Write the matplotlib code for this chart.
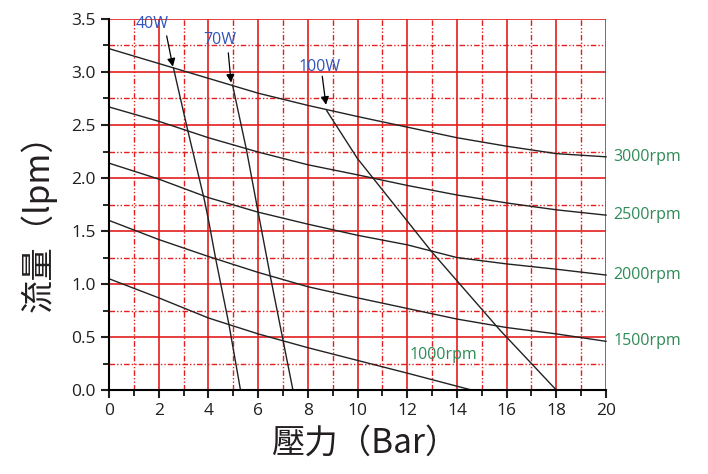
import numpy as np
import matplotlib.pyplot as plt
from matplotlib.ticker import MultipleLocator

# pump curves, flow (lpm) vs pressure (bar)
press = [0, 2, 4, 6, 8, 10, 12, 14, 16, 18, 20]
q3000 = [3.22, 3.08, 2.94, 2.80, 2.685, 2.58, 2.48, 2.38, 2.30, 2.23, 2.20]
q2500 = [2.67, 2.535, 2.38, 2.245, 2.125, 2.03, 1.93, 1.84, 1.765, 1.70, 1.65]
q2000 = [2.14, 1.99, 1.815, 1.678, 1.565, 1.46, 1.37, 1.25, 1.19, 1.14, 1.085]
q1500 = [1.60, 1.42, 1.26, 1.11, 0.975, 0.87, 0.77, 0.67, 0.59, 0.53, 0.46]
press1000 = [0, 2, 4, 6, 8, 10, 12, 14.6]
q1000 = [1.05, 0.87, 0.68, 0.53, 0.40, 0.28, 0.16, 0.0]

# power limit lines
p40 = [2.59, 3.17, 3.83, 4.0, 4.29, 4.83, 5.29]
f40 = [3.04, 2.447, 1.80, 1.607, 1.24, 0.613, 0.0]
p70 = [4.97, 5.53, 6.0, 6.49, 7.0, 7.4]
f70 = [2.877, 2.267, 1.678, 1.074, 0.472, 0.0]
p100 = [8.76, 9.99, 13.0, 15.73, 17.0, 18.0]
f100 = [2.635, 2.186, 1.30, 0.566, 0.25, 0.0]

rpm_labels = ['3000rpm', '2500rpm', '2000rpm', '1500rpm', '1000rpm']
watt_labels = ['40W', '70W', '100W']

plt.rcParams['font.family'] = ['Open Sans', 'DejaVu Sans']
red = '#e41e1e'
green = '#2e8b57'
blue = '#3355bb'

fig = plt.figure(figsize=(7.08, 4.74), dpi=100)
ax = fig.add_axes([0.154, 0.177, 0.702, 0.783])

ax.set_xlim(0, 20)
ax.set_ylim(0, 3.5)
ax.xaxis.set_major_locator(MultipleLocator(2))
ax.xaxis.set_minor_locator(MultipleLocator(1))
ax.yaxis.set_major_locator(MultipleLocator(0.5))
ax.yaxis.set_minor_locator(MultipleLocator(0.25))
ax.yaxis.set_major_formatter(lambda v, p: f'{v:.1f}')

ax.grid(which='major', color=red, lw=1.2, ls='-')
ax.grid(which='minor', color=red, lw=1.0, ls=(0, (4, 1.5, 1, 1.5, 1, 1.5)))
ax.set_axisbelow(True)
ax.yaxis.get_gridlines()[-1].set_visible(False)
ax.xaxis.get_gridlines()[-1].set_visible(False)

for s in ['top', 'right']:
    ax.spines[s].set_visible(False)
for s in ['left', 'bottom']:
    ax.spines[s].set_linewidth(1.5)
ax.tick_params(which='major', length=6, width=1.5, labelsize=12.5, colors='#231f20')
ax.tick_params(which='minor', length=4, width=1.2)

for y in [q3000, q2500, q2000, q1500]:
    ax.plot(press, y, color='#222222', lw=1.0, clip_on=False)
ax.plot(press1000, q1000, color='#222222', lw=1.0)
ax.plot(p40, f40, color='#222222', lw=1.0)
ax.plot(p70, f70, color='#222222', lw=1.0)
ax.plot(p100, f100, color='#222222', lw=1.0)

# rpm labels at the line ends
for lab, y in zip(rpm_labels[:4], [q3000, q2500, q2000, q1500]):
    ax.text(20.3, y[-1], lab, color=green, fontsize=11.5, va='center', ha='left',
            clip_on=False)
ax.text(12.1, 0.33, rpm_labels[4], color=green, fontsize=11.5, va='center', ha='left')

# watt labels with arrows
ax.text(1.73, 3.45, watt_labels[0], color=blue, fontsize=11.5, ha='center', va='center')
ax.text(4.47, 3.30, watt_labels[1], color=blue, fontsize=11.5, ha='center', va='center')
ax.text(8.49, 3.05, watt_labels[2], color=blue, fontsize=11.5, ha='center', va='center')
arr = dict(arrowstyle='-|>', color='k', lw=0.9, mutation_scale=12, shrinkA=0, shrinkB=0)
ax.annotate('', xy=(2.57, 3.05), xytext=(2.32, 3.34), arrowprops=arr)
ax.annotate('', xy=(4.91, 2.90), xytext=(4.80, 3.18), arrowprops=arr)
ax.annotate('', xy=(8.73, 2.69), xytext=(8.58, 2.96), arrowprops=arr)

cjk = ['Noto Sans CJK TC', 'DejaVu Sans']
ax.set_xlabel('壓力（Bar）', fontsize=24, family=cjk, color='#231f20')
ax.set_ylabel('流量（lpm）', fontsize=24, family=cjk, color='#231f20')
ax.xaxis.set_label_coords(0.515, -0.095)
ax.yaxis.set_label_coords(-0.105, 0.472)

fig.savefig('out.png', dpi=100)
